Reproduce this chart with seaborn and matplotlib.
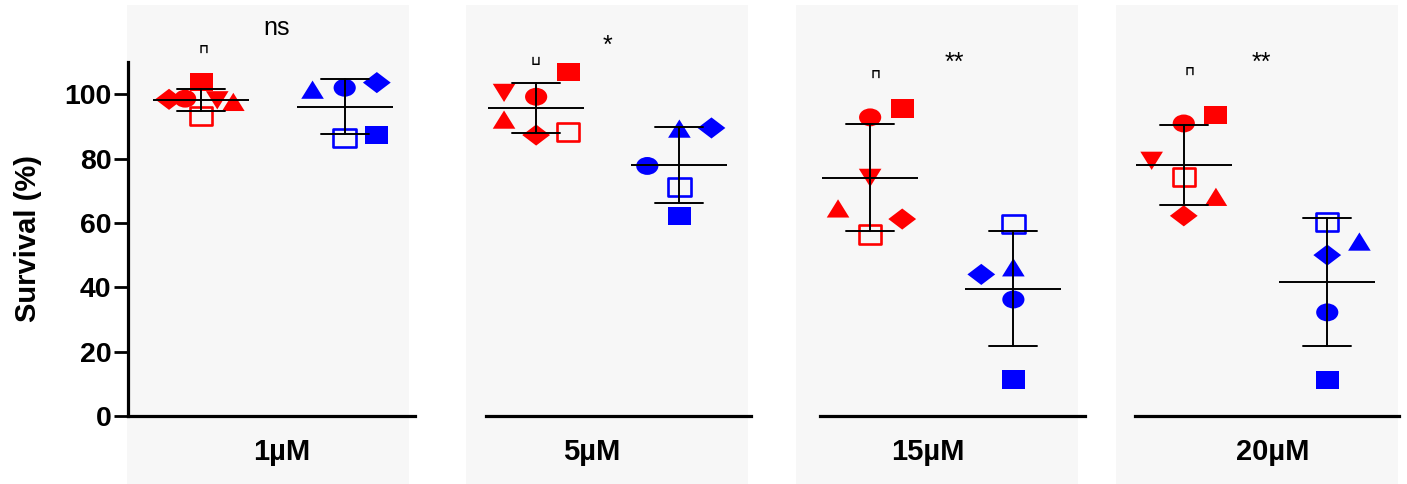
import numpy as np
import pandas as pd
import matplotlib
matplotlib.use("Agg")
import matplotlib.pyplot as plt
from matplotlib.path import Path
from matplotlib.patches import Rectangle
from matplotlib.colors import to_rgba
import seaborn as sns

# ---- data (survival %) ----
concentrations = ['1µM', '5µM', '15µM', '20µM']
reps_red = ['circle', 'square', 'open', 'up', 'down', 'diamond']
reps_blue = ['circle', 'square', 'open', 'up', 'diamond']

red_1 = [98.6, 103.8, 93.1, 97.6, 98.1, 98.4]
blue_1 = [102.0, 87.3, 86.5, 101.4, 103.6]
red_5 = [99.2, 106.9, 88.3, 92.1, 100.4, 87.3]
blue_5 = [77.7, 62.1, 71.2, 89.3, 89.5]
red_15 = [92.8, 95.5, 56.4, 64.5, 74.0, 61.2]
blue_15 = [36.2, 11.4, 59.8, 46.2, 44.0]
red_20 = [90.9, 93.5, 74.3, 68.1, 79.3, 62.2]
blue_20 = [32.2, 11.2, 60.3, 54.2, 50.0]

red_values = [red_1, red_5, red_15, red_20]
blue_values = [blue_1, blue_5, blue_15, blue_20]
sig_labels = ['ns', '*', '**', '**']
odd_marks = ['\u2293', '\u2294', '\u2293', '\u2293']

# ---- layout ----
# horizontal slot of every point in its column (Prism-like spreading)
slots_red = [[-1, 0, 0, 2, 1, -2], [0, 2, 2, -2, -2, 0], [0, 2, 0, -2, 0, 2], [0, 2, 0, 2, -2, 0]]
slots_blue = [[0, 2, 0, -2, 2], [-2, 0, 0, 0, 2], [0, 0, 0, 0, -2], [0, 0, 0, 2, 0]]
step = 0.112

W, H = 1407, 484
ax_left = [128, 486, 820, 1135]
ax_width = [287, 265, 265, 264]
bg_left = [127, 466, 796, 1116]
xlims = [(-0.51, 1.49), (-0.35, 1.5), (-0.35, 1.5), (-0.34, 1.5)]
xlabel_x = [0.535, 0.399, 0.407, 0.52]
sig_pos = [(0.525, 118.5), (0.495, 112.7), (0.585, 107.5), (0.54, 107.5)]
odd_pos = [(0.016, 113.9), (0.0, 110.3), (0.036, 106.1), (0.04, 107.2)]
bg_color = '#f7f7f7'

# Markers are a bit wider than tall in the original
h = 1 / 1.24


def poly(verts):
    verts = np.asarray(verts, float)
    codes = [Path.MOVETO] + [Path.LINETO] * (len(verts) - 1) + [Path.CLOSEPOLY]
    return Path(np.vstack([verts, verts[:1]]), codes)


circ = Path.unit_circle()
square = poly([(-1, -h), (1, -h), (1, h), (-1, h)])
markers = {
    'circle': Path(circ.vertices * [1, h], circ.codes),
    'square': square,
    'open': square,
    'up': poly([(0, h), (-1, -h), (1, -h)]),
    'down': poly([(0, -h), (-1, h), (1, h)]),
    'diamond': poly([(0, 0.76), (1, 0), (0, -0.76), (-1, 0)]),
}
sizes = {'circle': 255, 'square': 272, 'open': 260, 'up': 265, 'down': 265, 'diamond': 400}

sns.set_style('ticks')
plt.rcParams['font.family'] = ['Liberation Sans', 'DejaVu Sans']
plt.rcParams.update({'text.color': 'black', 'axes.labelcolor': 'black', 'axes.edgecolor': 'black',
                     'xtick.color': 'black', 'ytick.color': 'black'})

fig = plt.figure(figsize=(W / 100, H / 100), dpi=100)

for i in range(4):
    fig.add_artist(Rectangle((bg_left[i] / W, 0), 282 / W, 479 / H, transform=fig.transFigure,
                             facecolor=bg_color, edgecolor='none', zorder=-1))
    ax = fig.add_axes([ax_left[i] / W, 68 / H, ax_width[i] / W, 354 / H])
    ax.set_facecolor('none')

    df = pd.concat([
        pd.DataFrame({'group': 'red', 'gidx': 0, 'rep': reps_red, 'value': red_values[i],
                      'xpos': 0 + np.array(slots_red[i]) * step}),
        pd.DataFrame({'group': 'blue', 'gidx': 1, 'rep': reps_blue, 'value': blue_values[i],
                      'xpos': 1 + np.array(slots_blue[i]) * step}),
    ], ignore_index=True)

    sns.scatterplot(data=df, x='xpos', y='value', hue='group', palette={'red': '#ff0000', 'blue': '#0000ff'},
                    style='rep', markers=markers, size='rep', sizes=sizes, linewidth=0,
                    legend=False, ax=ax, zorder=1)
    pts = ax.collections[-1]
    fc = pts.get_facecolors().copy()
    ec = fc.copy()
    is_open = (df['rep'] == 'open').to_numpy()
    fc[is_open] = to_rgba(bg_color)
    pts.set_facecolors(fc)
    pts.set_edgecolors(ec)
    pts.set_linewidths(np.where(is_open, 1.9, 0.0))

    # mean line and SD error bars
    sns.pointplot(data=df, x='gidx', y='value', native_scale=True, orient='x', errorbar='sd',
                  color='black', marker='_', markersize=69, markeredgewidth=1.4, linestyle='none',
                  capsize=0.335, err_kws={'linewidth': 1.4, 'zorder': 3}, legend=False, ax=ax, zorder=3)

    ax.set_xlim(*xlims[i])
    ax.set_ylim(0, 110)
    ax.set_xticks([])
    ax.set_xlabel(concentrations[i], fontsize=21, fontweight='bold')
    ax.xaxis.set_label_coords(xlabel_x[i], -0.124)
    ax.xaxis.label.set_va('baseline')

    for s in ['left', 'bottom']:
        ax.spines[s].set_linewidth(2.3)
    if i == 0:
        sns.despine(ax=ax)
        ax.set_yticks(range(0, 101, 20))
        ax.tick_params(axis='y', direction='out', length=10, width=2.0, labelsize=20.5, pad=2)
        plt.setp(ax.get_yticklabels(), fontweight='bold')
        ax.set_ylabel('Survival (%)', fontsize=21, fontweight='bold')
        ax.yaxis.set_label_coords(-0.30, 0.5)
    else:
        sns.despine(ax=ax, left=True)
        ax.set_yticks([])
        ax.set_ylabel('')

    ax.text(sig_pos[i][0], sig_pos[i][1], sig_labels[i], fontsize=18, ha='center', va='baseline')
    ax.text(odd_pos[i][0], odd_pos[i][1], odd_marks[i], fontsize=9, fontweight='bold',
            ha='center', va='center', family=['DejaVu Sans'])

fig.savefig('out.png', dpi=100, facecolor='white')
